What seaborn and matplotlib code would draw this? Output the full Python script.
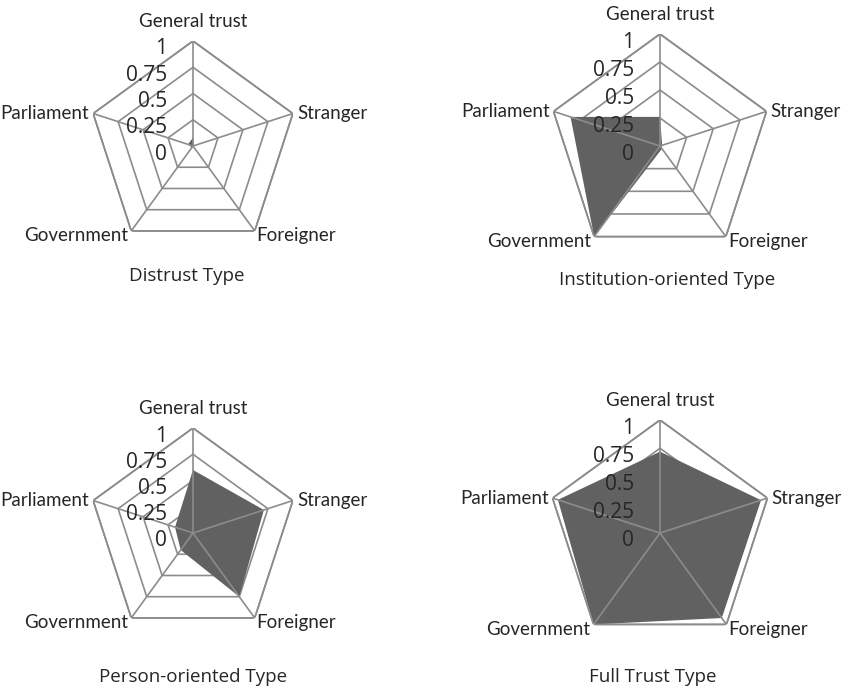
import numpy as np
import matplotlib
matplotlib.use("Agg")
import matplotlib.pyplot as plt
import seaborn as sns
from matplotlib.transforms import offset_copy

# ---------------- data ----------------
categories = ["General trust", "Stranger", "Foreigner", "Government", "Parliament"]
tick_values = [0, 0.25, 0.5, 0.75, 1]
tick_labels = ["0", "0.25", "0.5", "0.75", "1"]
titles = ["Distrust Type", "Institution-oriented Type",
          "Person-oriented Type", "Full Trust Type"]
distrust = [0.08, 0.01, 0.01, 0.02, 0.05]
institution = [0.26, 0.02, 0.03, 1.0, 0.84]
person = [0.60, 0.71, 0.75, 0.20, 0.18]
full_trust = [0.72, 0.94, 0.93, 1.0, 0.95]
series = [distrust, institution, person, full_trust]

# ---------------- style ----------------
sns.set_theme(style="white")
cat_family = ["Lato", "DejaVu Sans"]
num_family = ["Open Sans", "DejaVu Sans"]
plt.rcParams["font.family"] = ["Open Sans", "DejaVu Sans"]

grid_color = "#8c8c8c"
fill_color = "#616161"
text_color = "#262626"

W, H = 843, 692
fig = plt.figure(figsize=(W / 100, H / 100), dpi=100)

# layout: (center x px, center y px from top, radius px)
layout = [(193, 146, 105), (660, 146, 112), (193, 533, 105), (660, 533, 113)]
title_pos = [(187, 276), (667, 280), (193, 677), (653, 677)]

angles = np.deg2rad(np.arange(len(categories)) * 360 / len(categories))
closed = np.concatenate([angles, angles[:1]])

# label placement: (ha, va, dx px, dy px)
cat_place = [("center", "bottom", 0, 11), ("left", "center", 4, 0),
             ("left", "center", 2, -5), ("right", "center", -3, -5),
             ("right", "center", -4, 0)]

for (cx, cy, r), vals, title, tpos in zip(layout, series, titles, title_pos):
    ax = fig.add_axes([(cx - r) / W, (H - cy - r) / H, 2 * r / W, 2 * r / H],
                      projection="polar")
    ax.set_theta_offset(np.pi / 2)
    ax.set_theta_direction(-1)
    ax.set_ylim(0, 1)
    ax.grid(False)
    ax.set_xticks([])
    ax.set_yticks([])
    ax.spines["polar"].set_visible(False)
    ax.patch.set_alpha(0)

    # pentagon rings
    for v in tick_values[1:]:
        ax.plot(closed, [v] * len(closed), color=grid_color, lw=1.2, zorder=1,
                solid_joinstyle="miter")
    # data polygon
    v = list(vals) + [vals[0]]
    ax.fill(closed, v, color=fill_color, lw=0, zorder=2)
    # outer ring on top
    ax.plot(closed, [1] * len(closed), color=grid_color, lw=1.2, zorder=2.5)
    # spokes
    for a in angles:
        ax.plot([a, a], [0, 1], color=grid_color, lw=1.2, zorder=3)

    # radial tick labels
    tr = offset_copy(ax.transData, fig=fig, x=-26, y=-8, units="dots")
    for tv, tl in zip(tick_values, tick_labels):
        ax.text(0, tv, tl, transform=tr, ha="right", va="center",
                fontsize=15, family=num_family, color=text_color, zorder=5)

    # category labels
    for a, c, (ha, va, dx, dy) in zip(angles, categories, cat_place):
        trc = offset_copy(ax.transData, fig=fig, x=dx, y=dy, units="dots")
        ax.text(a, 1, c, transform=trc, ha=ha, va=va, fontsize=13.5,
                family=cat_family, color=text_color, zorder=5)

    fig.text(tpos[0] / W, 1 - tpos[1] / H, title, ha="center", va="center",
             fontsize=13.5, family=num_family, color=text_color)

fig.savefig("out.png", dpi=100, facecolor="white")
